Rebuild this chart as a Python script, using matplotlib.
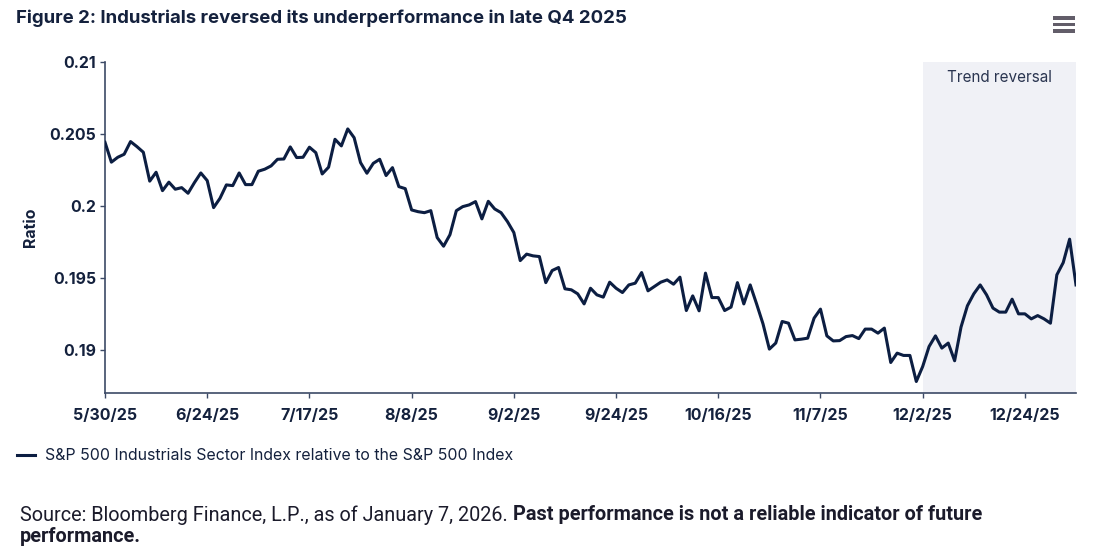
import matplotlib
matplotlib.use("Agg")
import matplotlib.pyplot as plt
import numpy as np
import pandas as pd
from matplotlib.patches import Rectangle

# ---- data ----
start_date = "2025-05-30"
end_date = "2026-01-07"
market_holidays = ["2025-06-19", "2025-07-04", "2025-09-01", "2025-11-27",
                   "2025-12-25", "2026-01-01"]

ratio = [
    0.20442, 0.20304, 0.20338, 0.20359, 0.20447, 0.20412, 0.20373, 0.20172, 0.20234, 0.20106,
    0.20165, 0.20116, 0.20127, 0.20088, 0.20162, 0.20229, 0.20176, 0.19988, 0.20053, 0.20146,
    0.20141, 0.20229, 0.20148, 0.20148, 0.20241, 0.20255, 0.20278, 0.20324, 0.20326, 0.20410,
    0.20336, 0.20338, 0.20408, 0.20370, 0.20222, 0.20269, 0.20463, 0.20417, 0.20535, 0.20474,
    0.20301, 0.20227, 0.20296, 0.20324, 0.20211, 0.20266, 0.20134, 0.20120, 0.19972, 0.19960,
    0.19953, 0.19967, 0.19780, 0.19720, 0.19800, 0.19967, 0.19995, 0.20007, 0.20030, 0.19910,
    0.20032, 0.19979, 0.19953, 0.19891, 0.19815, 0.19620, 0.19665, 0.19653, 0.19648, 0.19467,
    0.19551, 0.19572, 0.19424, 0.19417, 0.19389, 0.19319, 0.19428, 0.19382, 0.19366, 0.19470,
    0.19428, 0.19398, 0.19451, 0.19463, 0.19537, 0.19410, 0.19440, 0.19470, 0.19486, 0.19456,
    0.19505, 0.19273, 0.19375, 0.19271, 0.19533, 0.19363, 0.19363, 0.19273, 0.19297, 0.19467,
    0.19319, 0.19451, 0.19319, 0.19181, 0.19005, 0.19047, 0.19197, 0.19185, 0.19069, 0.19074,
    0.19081, 0.19220, 0.19283, 0.19097, 0.19062, 0.19064, 0.19092, 0.19099, 0.19078, 0.19144,
    0.19144, 0.19116, 0.19151, 0.18912, 0.18977, 0.18961, 0.18961, 0.18780, 0.18884, 0.19023,
    0.19097, 0.19012, 0.19047, 0.18924, 0.19158, 0.19306, 0.19389, 0.19451, 0.19382, 0.19290,
    0.19262, 0.19262, 0.19352, 0.19250, 0.19250, 0.19215, 0.19238, 0.19215, 0.19185, 0.19521,
    0.19606, 0.19769, 0.19451,
]

y_ticks = [0.19, 0.195, 0.2, 0.205, 0.21]
y_tick_labels = ["0.19", "0.195", "0.2", "0.205", "0.21"]
label_every = 16
reversal_start = "2025-12-02"

title = "Figure 2: Industrials reversed its underperformance in late Q4 2025"
series_name = "S&P 500 Industrials Sector Index relative to the S&P 500 Index"
band_label = "Trend reversal"
y_label = "Ratio"
source_plain = "Source: Bloomberg Finance, L.P., as of January 7, 2026. "
source_bold_1 = "Past performance is not a reliable indicator of future"
source_bold_2 = "performance."

# ---- derived ----
dates = pd.bdate_range(start_date, end_date, freq="C", holidays=market_holidays)
assert len(dates) == len(ratio)
x = np.arange(len(dates))
tick_pos = x[::label_every]
tick_labels = [f"{d.month}/{d.day}/{d.strftime('%y')}" for d in dates[::label_every]]
band_start = int(np.where(dates == pd.Timestamp(reversal_start))[0][0])

NAVY = "#0c1e42"
TEXT = "#14213d"
SPINE = "#3c4a66"

plt.rcParams["font.family"] = ["Inter", "DejaVu Sans"]

fig = plt.figure(figsize=(11, 5.5), dpi=100)
ax = fig.add_axes([105 / 1100, 1 - 393 / 550, (1076 - 105) / 1100, (393 - 62) / 550])

ax.axvspan(band_start, x[-1], color="#f0f1f6", zorder=0, lw=0)
ax.plot(x, ratio, color=NAVY, lw=2.2, solid_joinstyle="round", zorder=3)

ax.set_xlim(0, x[-1])
ax.set_ylim(0.187, 0.21)
ax.set_yticks(y_ticks)
ax.set_yticklabels(y_tick_labels)
ax.set_xticks(tick_pos)
ax.set_xticklabels(tick_labels)

for s in ["top", "right"]:
    ax.spines[s].set_visible(False)
for s in ["left", "bottom"]:
    ax.spines[s].set_color(SPINE)
    ax.spines[s].set_linewidth(1.2)

ax.tick_params(axis="both", colors=SPINE, length=3.5, width=1.0)
ax.tick_params(axis="y", pad=3, labelsize=11.4, labelcolor=TEXT)
ax.tick_params(axis="x", pad=7, labelsize=11.5, labelcolor=TEXT)
for lbl in ax.get_xticklabels() + ax.get_yticklabels():
    lbl.set_fontweight("bold")

ax.text((band_start + x[-1]) / 2, 0.2089, band_label, ha="center", va="center",
        fontsize=11, color="#2a3550", zorder=4)

fig.text(30 / 1100, 1 - 227 / 550, y_label, rotation=90, ha="center", va="center",
         fontsize=11.5, fontweight="bold", color=TEXT)

fig.text(16 / 1100, 1 - 18 / 550, title, ha="left", va="center",
         fontsize=13.4, fontweight="bold", color=TEXT)

# hamburger menu icon
for yy in [18, 24.5, 31]:
    fig.add_artist(Rectangle((1053 / 1100, 1 - (yy + 1.5) / 550), 22 / 1100, 3 / 550,
                             transform=fig.transFigure, color="#625d69", lw=0))

# legend
fig.add_artist(plt.Line2D([17 / 1100, 35 / 1100], [1 - 455 / 550] * 2,
                          transform=fig.transFigure, color=NAVY, lw=2.2))
fig.text(45 / 1100, 1 - 455 / 550, series_name, ha="left", va="center",
         fontsize=11.45, color=TEXT)

# source
src_font = ["Roboto", "DejaVu Sans"]
t1 = fig.text(20 / 1100, 1 - 515 / 550, source_plain, ha="left", va="center",
              fontsize=14.3, color="#1b1b2b", family=src_font)
fig.canvas.draw()
bb = t1.get_window_extent()
x_next = bb.x1 / fig.bbox.width
fig.text(x_next, 1 - 515 / 550, source_bold_1, ha="left", va="center",
         fontsize=14.3, fontweight="bold", color="#1b1b2b", family=src_font)
fig.text(20 / 1100, 1 - 537 / 550, source_bold_2, ha="left", va="center",
         fontsize=14.3, fontweight="bold", color="#1b1b2b", family=src_font)

fig.savefig("out.png", dpi=100, facecolor="white")
